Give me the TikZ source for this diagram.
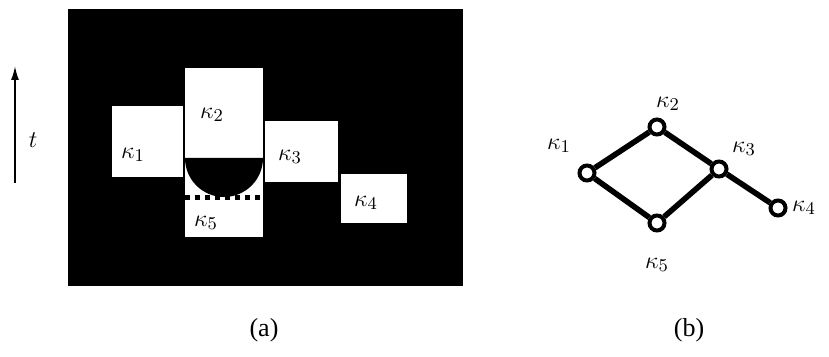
\documentclass[tikz,border=0pt]{standalone}
\usepackage{fontspec}
\newfontfamily\capfont{Liberation Serif}
\usetikzlibrary{arrows.meta}

\begin{document}
\begin{tikzpicture}[x=0.5pt,y=-0.5pt,
    vertex/.style={circle, draw, line width=2pt, fill=white, inner sep=0pt, minimum size=7.5pt},
    link/.style={line width=2.8pt},
    lab/.style={font=\fontsize{13}{15}\selectfont},
    capt/.style={font=\capfont\fontsize{13}{15}\selectfont}]
  \useasboundingbox (0,0) rectangle (829,357);

  % (a) the black field with the white cells
  \fill (68,9) rectangle (463,286);
  \fill[white] (112,106) rectangle (183,177);
  \fill[white] (185,68) rectangle (263,237);
  \fill[white] (265,121) rectangle (338,182);
  \fill[white] (341,174) rectangle (407,223);
  \fill (185,158) arc[start angle=180, end angle=0, radius=39] -- cycle;
  \draw[line width=2.5pt, dash pattern=on 2.5pt off 2.5pt] (185,198) -- (263,198);

  \node[lab] (a1) at (133,155) {$\kappa_1$};
  \node[lab] (a2) at (212,115) {$\kappa_2$};
  \node[lab] (a3) at (290,157) {$\kappa_3$};
  \node[lab] (a4) at (366,203) {$\kappa_4$};
  \node[lab] (a5) at (206,223) {$\kappa_5$};

  % time axis
  \coordinate (tlow) at (15,183);
  \coordinate (thigh) at (15,66);
  \draw[-{Latex[length=7pt,width=4pt]}, line width=0.9pt] (tlow) -- (thigh);
  \node[lab] (tlab) at (33,140) {$t$};

  % (b) the graph
  \node[vertex] (v1) at (587,173) {};
  \node[vertex] (v2) at (657,127) {};
  \node[vertex] (v3) at (719,169) {};
  \node[vertex] (v4) at (778,208) {};
  \node[vertex] (v5) at (657,223) {};

  \draw[link] (v1) -- (v2);
  \draw[link] (v2) -- (v3);
  \draw[link] (v1) -- (v5);
  \draw[link] (v5) -- (v3);
  \draw[link] (v3) -- (v4);

  \node[lab] (b1) at (559,146) {$\kappa_1$};
  \node[lab] (b2) at (668,104) {$\kappa_2$};
  \node[lab] (b3) at (744,149) {$\kappa_3$};
  \node[lab] (b4) at (804,208) {$\kappa_4$};
  \node[lab] (b5) at (657,265) {$\kappa_5$};

  % captions
  \node[capt] (capa) at (264,330) {(a)};
  \node[capt] (capb) at (689,330) {(b)};
\end{tikzpicture}
\end{document}
